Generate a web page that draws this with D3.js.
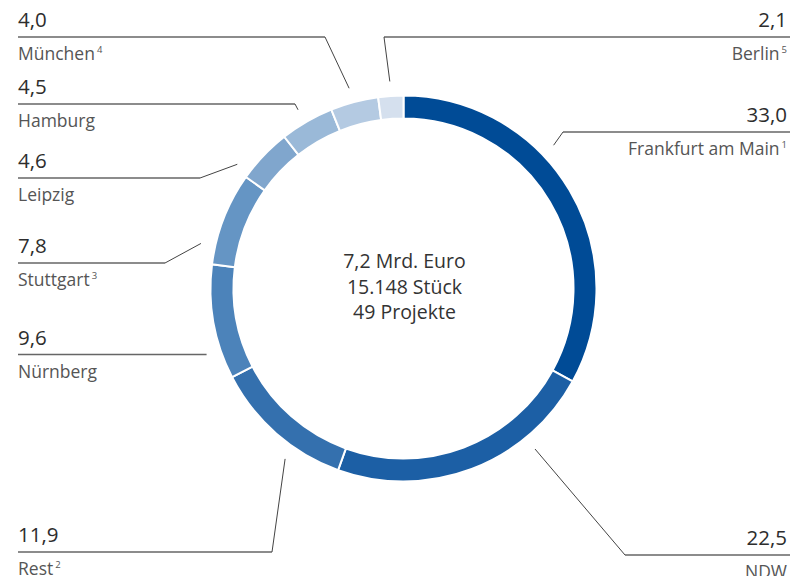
<!DOCTYPE html>
<html>
<head>
<meta charset="utf-8">
<script src="https://cdn.jsdelivr.net/npm/d3@7"></script>
<style>
  html, body { margin: 0; padding: 0; background: #fff; }
  svg { display: block; font-family: "Open Sans", "Noto Sans", sans-serif; }
</style>
</head>
<body>
<svg id="chart" width="790" height="576"></svg>
<script>
// Regions (clockwise from 12 o'clock) and their shares in percent
const regions = ["Frankfurt am Main", "NDW", "Rest", "Nürnberg", "Stuttgart", "Leipzig", "Hamburg", "München", "Berlin"];
const shares = [33.0, 22.5, 11.9, 9.6, 7.8, 4.6, 4.5, 4.0, 2.1];
const footnotes = ["1", "", "2", "", "3", "", "", "4", "5"];
const colors = ["#004b96", "#1c5fa5", "#3470ae", "#4c83ba", "#6595c4", "#80a6cd", "#9ab9d8", "#b4cae2", "#d5e0ee"];
const centerLines = ["7,2 Mrd. Euro", "15.148 Stück", "49 Projekte"];

// Label placement: side, y of the rule, x of the elbow, where along the slice the leader points
const labelSide = ["right", "right", "left", "left", "left", "left", "left", "left", "right"];
const labelRuleY = [132, 555, 552, 354.5, 263, 178, 104, 37, 37];
const labelElbowX = [563, 625, 272, null, 165, 200, 295, 325, 384];
const leaderAlong = [0.39, 0.27, 0.35, 0.26, 0.19, 0.09, 0.47, 0.47, 0.5];

const fmt = v => d3.format(".1f")(v).replace(".", ",");

const svg = d3.select("#chart");
const W = 790;
const cx = 403.5, cy = 288.5;
const outerR = 193, innerR = 170;
const leaderR = outerR + 14.5;

const pie = d3.pie().sort(null).value(d => d.share);
const data = regions.map((name, i) => ({ name, share: shares[i], note: footnotes[i], color: colors[i], i }));
const arcs = pie(data);
const arc = d3.arc().innerRadius(innerR).outerRadius(outerR);

const ring = svg.append("g").attr("transform", `translate(${cx},${cy})`);
ring.selectAll("path")
  .data(arcs)
  .join("path")
  .attr("d", arc)
  .attr("fill", d => d.data.color)
  .attr("stroke", "#fff")
  .attr("stroke-width", 2);

// Center summary
svg.append("g")
  .selectAll("text")
  .data(centerLines)
  .join("text")
  .attr("x", cx + 1)
  .attr("y", (d, i) => 268 + i * 25.5)
  .attr("text-anchor", "middle")
  .attr("font-size", 19.5)
  .attr("fill", "#333")
  .text(d => d);

// Leader lines and labels
const labels = svg.append("g");
arcs.forEach((a, i) => {
  const ang = a.startAngle + leaderAlong[i] * (a.endAngle - a.startAngle);
  const ax = cx + Math.sin(ang) * leaderR;
  const ay = cy - Math.cos(ang) * leaderR;
  const ry = labelRuleY[i];
  const side = labelSide[i];
  const ex = labelElbowX[i];
  const left = side === "left";
  const x0 = left ? 18 : W;
  const tx = left ? 18 : 787;

  // horizontal rule
  labels.append("line")
    .attr("x1", x0).attr("x2", ex == null ? ax : ex)
    .attr("y1", ry).attr("y2", ry)
    .attr("stroke", "#666").attr("stroke-width", 1.3);

  // slanted leader towards the ring
  if (ex != null) {
    labels.append("line")
      .attr("x1", ex).attr("y1", ry)
      .attr("x2", ax).attr("y2", ay)
      .attr("stroke", "#444").attr("stroke-width", 1);
  }

  labels.append("text")
    .attr("x", tx).attr("y", ry - 10)
    .attr("text-anchor", left ? "start" : "end")
    .attr("font-size", 20.5)
    .attr("fill", "#2d2d2d")
    .text(fmt(shares[i]));

  const name = labels.append("text")
    .attr("x", tx).attr("y", ry + 23)
    .attr("text-anchor", left ? "start" : "end")
    .attr("font-size", 17.5)
    .attr("fill", "#555");
  name.append("tspan").text(regions[i]);
  if (footnotes[i]) {
    name.append("tspan").attr("dx", 2).attr("dy", -7).attr("font-size", 9.5).text(footnotes[i]);
  }
});
</script>
</body>
</html>
